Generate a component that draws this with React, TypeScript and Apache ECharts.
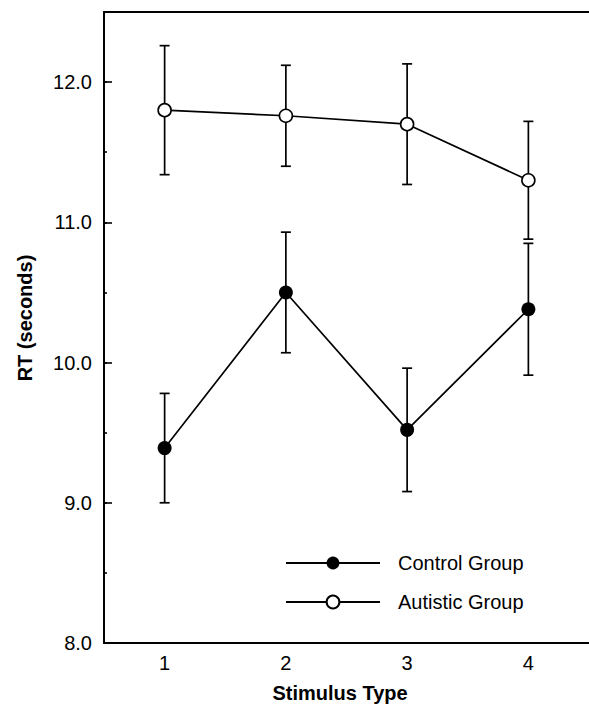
import React, { useEffect, useRef } from "react";
import * as echarts from "echarts";

const categories = ["1", "2", "3", "4"];
const controlMean = [9.39, 10.5, 9.52, 10.38];
const controlErr = [0.39, 0.43, 0.44, 0.47];
const autisticMean = [11.8, 11.76, 11.7, 11.3];
const autisticErr = [0.46, 0.36, 0.43, 0.42];
const yTickLabels = ["8.0", "9.0", "10.0", "11.0", "12.0"];

const FONT = "Liberation Sans, Arial, Helvetica, sans-serif";

function errorSeries(name: string, mean: number[], err: number[]) {
  return {
    type: "custom",
    name: name + " SE",
    z: 1,
    silent: true,
    data: mean.map((m, i) => [i, m - err[i], m + err[i]]),
    renderItem: (params: any, api: any) => {
      const x = api.value(0);
      const lo = api.coord([x, api.value(1)]);
      const hi = api.coord([x, api.value(2)]);
      const half = 5;
      const style = { stroke: "#000", lineWidth: 1.7 };
      return {
        type: "group",
        children: [
          { type: "line", shape: { x1: lo[0], y1: lo[1], x2: hi[0], y2: hi[1] }, style },
          { type: "line", shape: { x1: lo[0] - half, y1: lo[1], x2: lo[0] + half, y2: lo[1] }, style },
          { type: "line", shape: { x1: hi[0] - half, y1: hi[1], x2: hi[0] + half, y2: hi[1] }, style },
        ],
      };
    },
  };
}

export default function App() {
  const ref = useRef<HTMLDivElement>(null);
  useEffect(() => {
    if (!ref.current) return;
    const chart = echarts.init(ref.current, null, { renderer: "svg" });
    chart.setOption({
      animation: false,
      backgroundColor: "#fff",
      textStyle: { fontFamily: FONT },
      grid: { left: 104, right: -6, top: 12, bottom: 61, containLabel: false },
      legend: {
        orient: "vertical",
        left: 280,
        top: 548,
        itemWidth: 94,
        itemHeight: 16,
        itemGap: 19,
        textStyle: {
          fontFamily: FONT,
          fontSize: 20,
          lineHeight: 16,
          color: "#000",
          padding: [0, 0, 0, 13],
        },
        data: ["Control Group", "Autistic Group"],
      },
      xAxis: [
        {
          type: "category",
          data: categories,
          boundaryGap: true,
          position: "bottom",
          axisLine: { lineStyle: { color: "#000", width: 2 } },
          axisTick: { inside: true, length: 8, alignWithLabel: true, lineStyle: { color: "#000", width: 1.6 } },
          axisLabel: { color: "#000", fontSize: 20, fontFamily: FONT, margin: 10 },
          splitLine: { show: false },
        },
        {
          type: "category",
          data: categories,
          position: "top",
          axisLine: { lineStyle: { color: "#000", width: 2 } },
          axisTick: { show: false },
          axisLabel: { show: false },
          splitLine: { show: false },
        },
      ],
      yAxis: [
        {
          type: "value",
          min: 8,
          max: 12.5,
          interval: 1,
          axisLine: { show: true, lineStyle: { color: "#000", width: 2 } },
          axisTick: { show: true, inside: true, length: 8, lineStyle: { color: "#000", width: 1.6 } },
          axisLabel: {
            color: "#000",
            fontSize: 20,
            fontFamily: FONT,
            margin: 12,
            formatter: (v: number) => {
              const idx = Math.round(v - 8);
              return Math.abs(v - Math.round(v)) < 1e-6 && yTickLabels[idx] ? yTickLabels[idx] : "";
            },
          },
          splitLine: { show: false },
        },
        {
          type: "value",
          min: 8,
          max: 12.5,
          interval: 0.5,
          position: "left",
          axisLine: { show: false },
          axisTick: { show: true, inside: true, length: 3, lineStyle: { color: "#000", width: 1.6 } },
          axisLabel: { show: false },
          splitLine: { show: false },
        },
      ],
      graphic: [
        {
          type: "text",
          x: 340,
          y: 693,
          style: {
            text: "Stimulus Type",
            font: `bold 20px ${FONT}`,
            fill: "#000",
            align: "center",
            verticalAlign: "middle",
          },
        },
        {
          type: "text",
          x: 25,
          y: 318,
          rotation: Math.PI / 2,
          style: {
            text: "RT (seconds)",
            font: `bold 20px ${FONT}`,
            fill: "#000",
            align: "center",
            verticalAlign: "middle",
          },
        },
      ],
      series: [
        errorSeries("Control Group", controlMean, controlErr),
        errorSeries("Autistic Group", autisticMean, autisticErr),
        {
          type: "line",
          name: "Control Group",
          data: controlMean,
          z: 3,
          symbol: "circle",
          symbolSize: 14,
          lineStyle: { color: "#000", width: 1.7 },
          itemStyle: { color: "#000", borderColor: "#000", borderWidth: 0 },
        },
        {
          type: "line",
          name: "Autistic Group",
          data: autisticMean,
          z: 3,
          symbol: "circle",
          symbolSize: 13,
          lineStyle: { color: "#000", width: 1.7 },
          itemStyle: { color: "#fff", borderColor: "#000", borderWidth: 1.6 },
        },
      ],
    });
    return () => chart.dispose();
  }, []);
  return <div ref={ref} style={{ width: 589, height: 704, position: "absolute", left: 0, top: 0 }} />;
}
